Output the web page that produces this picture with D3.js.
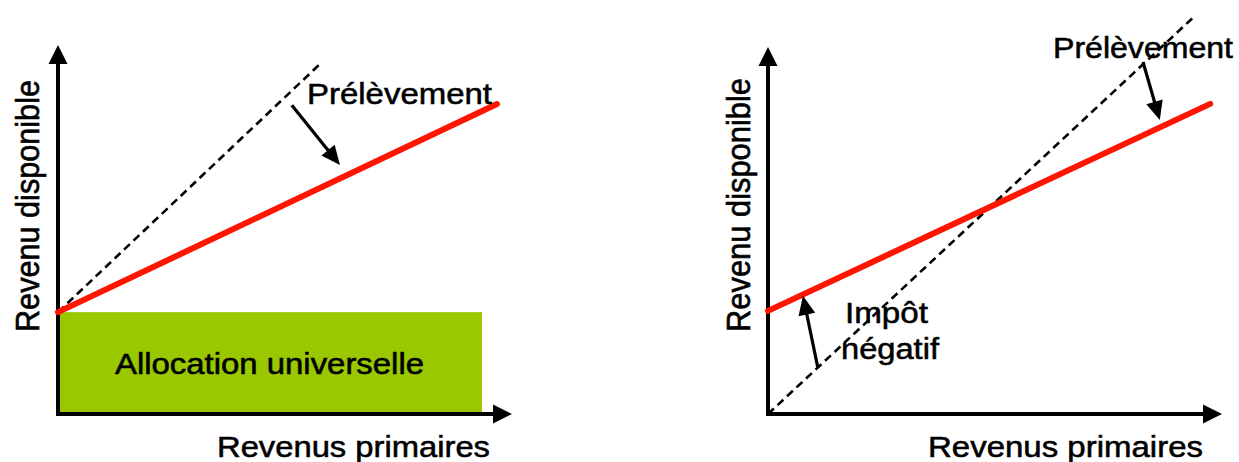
<!DOCTYPE html>
<html>
<head>
<meta charset="utf-8">
<script src="https://cdn.jsdelivr.net/npm/d3@7"></script>
<style>
  html, body { margin: 0; padding: 0; background: #fff; }
  svg { display: block; }
  text { font-family: "Liberation Sans", Arial, Helvetica, sans-serif; fill: #000; stroke: #000; stroke-width: 0.55px; }
</style>
</head>
<body>
<svg id="chart" width="1239" height="462"></svg>
<script>
// ---- Data (conceptual units, axes span 0..100) ----
const axisDomain = [0, 100];
const axisLabelsX = ["Revenus primaires", "Revenus primaires"];
const axisLabelsY = ["Revenu disponible", "Revenu disponible"];

// Left panel: universal allowance
const leftAllocationBox = [[0, 0], [93.4, 27.6]];
const leftRedLine = [[0, 27.6], [96.7, 84.0]];
const leftDashedLine = [[0, 27.6], [57.5, 94.6]];
const leftArrow = [[51.5, 83.7], [62.1, 67.5]];
const leftLabels = ["Prélèvement", "Allocation universelle"];

// Right panel: negative income tax
const rightRedLine = [[0, 28.1], [97.4, 84.5]];
const rightDashedLine = [[0, 0], [93.8, 108.2]];
const rightArrowTax = [[82.6, 95.9], [86.3, 80.1]];
const rightArrowNegative = [[11.0, 12.5], [7.7, 32.2]];
const rightLabels = ["Prélèvement", "Impôt", "négatif"];

// ---- Drawing ----
const svg = d3.select("#chart");
const RED = "#ff1500";
const GREEN = "#99c800";
const FS = 29.5;
const SX = 1.13;

function arrowHead(g, tip, from, len, half, color) {
  const dx = tip[0] - from[0], dy = tip[1] - from[1];
  const d = Math.hypot(dx, dy), ux = dx / d, uy = dy / d;
  const bx = tip[0] - ux * len, by = tip[1] - uy * len;
  const pts = [tip, [bx - uy * half, by + ux * half], [bx + uy * half, by - ux * half]];
  g.append("path").attr("d", "M" + pts.map(p => p.join(",")).join("L") + "Z").attr("fill", color);
  return [bx + ux * 2, by + uy * 2];
}

function drawPanel(cfg) {
  const x = d3.scaleLinear().domain(axisDomain).range([cfg.ox, cfg.xTip]);
  const y = d3.scaleLinear().domain(axisDomain).range([cfg.oy, cfg.yTip]);
  const g = svg.append("g");
  const line = d3.line().x(d => x(d[0])).y(d => y(d[1]));

  if (cfg.box) {
    g.append("rect")
      .attr("x", x(cfg.box[0][0])).attr("y", y(cfg.box[1][1]))
      .attr("width", x(cfg.box[1][0]) - x(cfg.box[0][0]))
      .attr("height", y(cfg.box[0][1]) - y(cfg.box[1][1]))
      .attr("fill", GREEN);
  }

  // axes
  const xEnd = arrowHead(g, [x(axisDomain[1]), y(0)], [x(0), y(0)], 19, 9.5, "#000");
  g.append("line").attr("x1", x(0) - 2).attr("y1", y(0)).attr("x2", xEnd[0]).attr("y2", y(0))
    .attr("stroke", "#000").attr("stroke-width", 4);
  const yEnd = arrowHead(g, [x(0), y(axisDomain[1])], [x(0), y(0)], 19, 9.5, "#000");
  g.append("line").attr("x1", x(0)).attr("y1", y(0) + 2).attr("x2", x(0)).attr("y2", yEnd[1])
    .attr("stroke", "#000").attr("stroke-width", 4);

  // dashed 45° reference
  g.append("path").attr("d", line(cfg.dashed)).attr("fill", "none")
    .attr("stroke", "#000").attr("stroke-width", 2.6).attr("stroke-dasharray", "8,5");

  // red disposable income line
  g.append("path").attr("d", line(cfg.red)).attr("fill", "none")
    .attr("stroke", RED).attr("stroke-width", 6).attr("stroke-linecap", "round");

  // annotation arrows
  cfg.arrows.forEach(a => {
    const tail = [x(a[0][0]), y(a[0][1])], tip = [x(a[1][0]), y(a[1][1])];
    const base = arrowHead(g, tip, tail, 19, 8.5, "#000");
    g.append("line").attr("x1", tail[0]).attr("y1", tail[1]).attr("x2", base[0]).attr("y2", base[1])
      .attr("stroke", "#000").attr("stroke-width", 3.2);
  });

  // texts
  cfg.texts.forEach(t => {
    g.append("text").attr("x", t.x).attr("y", t.y)
      .attr("font-size", FS).attr("textLength", t.w).attr("lengthAdjust", "spacingAndGlyphs")
      .text(t.s);
  });
  g.append("text")
    .attr("transform", `translate(${cfg.yLab[0]},${cfg.yLab[1]}) scale(${SX},1) rotate(-90)`)
    .attr("text-anchor", "middle").attr("font-size", FS)
    .attr("textLength", cfg.yLab[2]).attr("lengthAdjust", "spacingAndGlyphs")
    .text(cfg.yText);
}

drawPanel({
  ox: 58, oy: 414, xTip: 512, yTip: 45,
  box: leftAllocationBox,
  red: leftRedLine, dashed: leftDashedLine, arrows: [leftArrow],
  texts: [
    { s: leftLabels[0], x: 307, y: 104, w: 185 },
    { s: leftLabels[1], x: 115, y: 374, w: 309 },
    { s: axisLabelsX[0], x: 217, y: 457, w: 273 }
  ],
  yLab: [39, 206, 252], yText: axisLabelsY[0]
});

drawPanel({
  ox: 768, oy: 414, xTip: 1222, yTip: 47,
  red: rightRedLine, dashed: rightDashedLine, arrows: [rightArrowTax, rightArrowNegative],
  texts: [
    { s: rightLabels[0], x: 1053, y: 58, w: 180 },
    { s: rightLabels[1], x: 845, y: 323, w: 83 },
    { s: rightLabels[2], x: 841, y: 359, w: 98 },
    { s: axisLabelsX[1], x: 928, y: 457, w: 275 }
  ],
  yLab: [750, 205, 254], yText: axisLabelsY[1]
});
</script>
</body>
</html>
